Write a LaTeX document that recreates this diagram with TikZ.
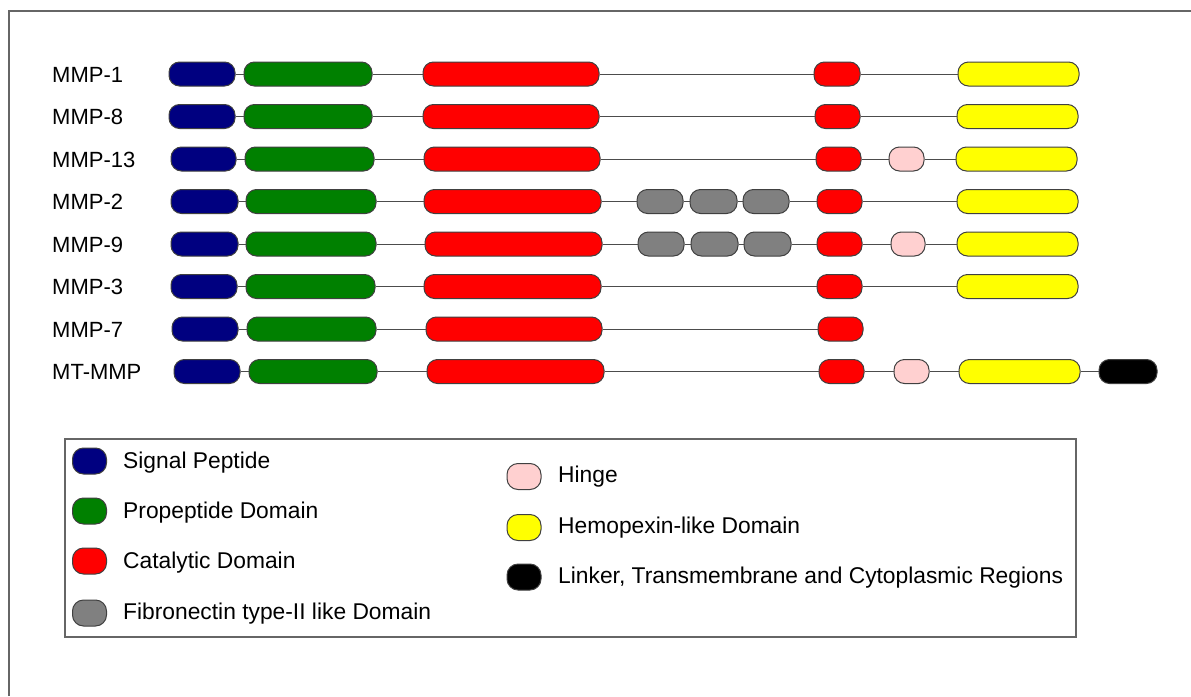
\documentclass[tikz,border=0pt]{standalone}
\usepackage{fontspec}
\setmainfont{Liberation Sans}
\begin{document}
\begin{tikzpicture}[x=1pt,y=-1pt,
  dom/.style={draw=black!75, line width=1pt, rounded corners=10.5pt, inner sep=0pt,
              minimum height=24pt},
  swatch/.style={draw=black!75, line width=1pt, rounded corners=11pt, inner sep=0pt,
                 minimum width=34pt, minimum height=26pt},
  link/.style={draw=black!70, line width=1pt},
  frame/.style={draw=black!60, line width=1.5pt},
  lab/.style={anchor=base west, inner sep=0pt, font=\fontsize{22}{26}\selectfont},
  key/.style={anchor=base west, inner sep=0pt, font=\fontsize{22.8}{27}\selectfont},
  sig/.style={fill={rgb,255:red,0;green,0;blue,128}},
  pro/.style={fill={rgb,255:red,0;green,128;blue,0}},
  cat/.style={fill={rgb,255:red,255;green,0;blue,0}},
  fib/.style={fill={rgb,255:red,128;green,128;blue,128}},
  hin/.style={fill={rgb,255:red,255;green,208;blue,208}},
  hem/.style={fill={rgb,255:red,255;green,255;blue,0}},
  tmr/.style={fill=black}]
\useasboundingbox (0,0) rectangle (1191,696);
\fill[white] (0,0) rectangle (1191,696);
% outer frame (left and top edges)
\draw[frame] (9,696) -- (9,11) -- (1191,11);

% domain box: style, name, left x, right x, centre y
\newcommand\mmpbox[5]{\node[dom,#1,minimum width={#4-#3}] (#2) at ({(#3+#4)/2},#5) {};}

% ---- MMP-1
\node[lab] (l1) at (52,82) {MMP-1};
\mmpbox{sig}{s1}{169}{235}{74}
\mmpbox{pro}{p1}{244}{372}{74}
\mmpbox{cat}{c1}{423}{599}{74}
\mmpbox{cat}{z1}{814}{860}{74}
\mmpbox{hem}{h1}{958}{1079}{74}
% ---- MMP-8
\node[lab] (l2) at (52,124.5) {MMP-8};
\mmpbox{sig}{s2}{169}{235}{116.5}
\mmpbox{pro}{p2}{244}{372}{116.5}
\mmpbox{cat}{c2}{423}{599}{116.5}
\mmpbox{cat}{z2}{815}{860}{116.5}
\mmpbox{hem}{h2}{957}{1078}{116.5}
% ---- MMP-13
\node[lab] (l3) at (52,167) {MMP-13};
\mmpbox{sig}{s3}{171}{236}{159}
\mmpbox{pro}{p3}{245}{374}{159}
\mmpbox{cat}{c3}{424}{600}{159}
\mmpbox{cat}{z3}{816}{861}{159}
\mmpbox{hin}{g3}{889}{924}{159}
\mmpbox{hem}{h3}{956}{1077}{159}
% ---- MMP-2
\node[lab] (l4) at (52,209.5) {MMP-2};
\mmpbox{sig}{s4}{171}{238}{201.5}
\mmpbox{pro}{p4}{246}{376}{201.5}
\mmpbox{cat}{c4}{424}{601}{201.5}
\mmpbox{fib}{fa4}{637}{683}{201.5}
\mmpbox{fib}{fb4}{690}{737}{201.5}
\mmpbox{fib}{fc4}{743}{789}{201.5}
\mmpbox{cat}{z4}{817}{862}{201.5}
\mmpbox{hem}{h4}{957}{1078}{201.5}
% ---- MMP-9
\node[lab] (l5) at (52,252) {MMP-9};
\mmpbox{sig}{s5}{171}{238}{244}
\mmpbox{pro}{p5}{246}{376}{244}
\mmpbox{cat}{c5}{425}{602}{244}
\mmpbox{fib}{fa5}{638}{684}{244}
\mmpbox{fib}{fb5}{691}{738}{244}
\mmpbox{fib}{fc5}{744}{791}{244}
\mmpbox{cat}{z5}{817}{862}{244}
\mmpbox{hin}{g5}{891}{925}{244}
\mmpbox{hem}{h5}{957}{1078}{244}
% ---- MMP-3
\node[lab] (l6) at (52,294.5) {MMP-3};
\mmpbox{sig}{s6}{171}{237}{286.5}
\mmpbox{pro}{p6}{246}{375}{286.5}
\mmpbox{cat}{c6}{424}{601}{286.5}
\mmpbox{cat}{z6}{817}{862}{286.5}
\mmpbox{hem}{h6}{957}{1078}{286.5}
% ---- MMP-7
\node[lab] (l7) at (52,337) {MMP-7};
\mmpbox{sig}{s7}{172}{238}{329}
\mmpbox{pro}{p7}{247}{376}{329}
\mmpbox{cat}{c7}{426}{602}{329}
\mmpbox{cat}{z7}{818}{863}{329}
% ---- MT-MMP
\node[lab] (l8) at (52,379.5) {MT-MMP};
\mmpbox{sig}{s8}{174}{240}{371.5}
\mmpbox{pro}{p8}{249}{377}{371.5}
\mmpbox{cat}{c8}{427}{604}{371.5}
\mmpbox{cat}{z8}{819}{864}{371.5}
\mmpbox{hin}{g8}{894}{929}{371.5}
\mmpbox{hem}{h8}{959}{1080}{371.5}
\mmpbox{tmr}{t8}{1099}{1157}{371.5}

% linkers between consecutive domains
\foreach \a/\b in {s1/p1,p1/c1,c1/z1,z1/h1,
                   s2/p2,p2/c2,c2/z2,z2/h2,
                   s3/p3,p3/c3,c3/z3,z3/g3,g3/h3,
                   s4/p4,p4/c4,c4/fa4,fa4/fb4,fb4/fc4,fc4/z4,z4/h4,
                   s5/p5,p5/c5,c5/fa5,fa5/fb5,fb5/fc5,fc5/z5,z5/g5,g5/h5,
                   s6/p6,p6/c6,c6/z6,z6/h6,
                   s7/p7,p7/c7,c7/z7,
                   s8/p8,p8/c8,c8/z8,z8/g8,g8/h8,h8/t8}
  \draw[link] (\a.east) -- (\b.west);

% ---- legend
\node[frame, draw, rectangle, inner sep=0pt, minimum width=1011pt, minimum height=198pt]
  (legend) at (570.5,538) {};
\node[swatch,sig] (k1) at (89.5,461) {};
\node[key] (k1t) at (123,468) {Signal Peptide};
\node[swatch,pro] (k2) at (89.5,511) {};
\node[key] (k2t) at (123,518) {Propeptide Domain};
\node[swatch,cat] (k3) at (89.5,561) {};
\node[key] (k3t) at (123,568) {Catalytic Domain};
\node[swatch,fib] (k4) at (89.5,613) {};
\node[key] (k4t) at (123,619) {Fibronectin type-II like Domain};
\node[swatch,hin] (k5) at (524,476.5) {};
\node[key] (k5t) at (558,482) {Hinge};
\node[swatch,hem] (k6) at (524,527.5) {};
\node[key] (k6t) at (558,533) {Hemopexin-like Domain};
\node[swatch,tmr] (k7) at (524,577) {};
\node[key] (k7t) at (558,583) {Linker, Transmembrane and Cytoplasmic Regions};
\end{tikzpicture}
\end{document}
